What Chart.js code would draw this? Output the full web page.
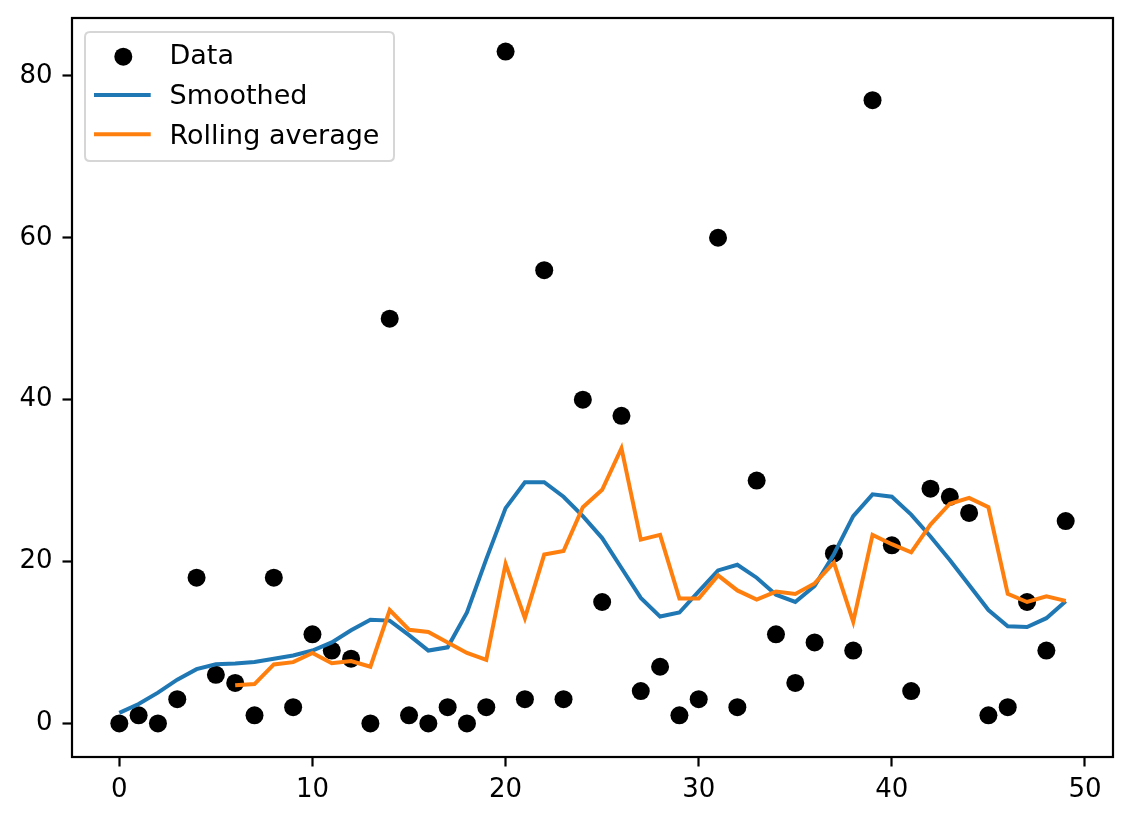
<!DOCTYPE html>
<html>
<head>
<meta charset="utf-8">
<script src="https://cdn.jsdelivr.net/npm/chart.js@4.4.1/dist/chart.umd.min.js"></script>
<style>
  html, body { margin: 0; padding: 0; background: #fff; }
  canvas { display: block; }
</style>
</head>
<body>
<canvas id="c" width="1132" height="822"></canvas>
<script>
// ---- data ----
const xValues = [0,1,2,3,4,5,6,7,8,9,10,11,12,13,14,15,16,17,18,19,20,21,22,23,24,25,26,27,28,29,30,31,32,33,34,35,36,37,38,39,40,41,42,43,44,45,46,47,48,49];
const dataValues = [0,1,0,3,18,6,5,1,18,2,11,9,8,0,50,1,0,2,0,2,83,3,56,3,40,15,38,4,7,1,3,60,2,30,11,5,10,21,9,77,22,4,29,28,26,1,2,15,9,25];
const smoothedValues = [1.3,2.4,3.8,5.4,6.7,7.3,7.4,7.6,8.0,8.4,9.0,10.0,11.5,12.8,12.7,10.9,9.0,9.4,13.7,20.3,26.6,29.8,29.8,28.0,25.6,22.9,19.2,15.5,13.2,13.7,16.3,18.9,19.6,18.0,15.9,15.0,17.0,20.9,25.6,28.3,28.0,25.8,23.1,20.2,17.1,14.0,12.0,11.9,13.0,15.1];
const rollingValues = [null,null,null,null,null,null,4.71,4.86,7.29,7.57,8.71,7.43,7.71,7.00,14.00,11.57,11.29,10.00,8.71,7.86,19.71,13.00,20.86,21.29,26.71,28.86,34.00,22.71,23.29,15.43,15.43,18.29,16.43,15.29,16.29,16.00,17.29,19.86,12.57,23.29,22.14,21.14,24.57,27.14,27.86,26.71,16.00,15.00,15.71,15.14];
const seriesLabels = ['Data', 'Smoothed', 'Rolling average'];
const xTicks = [0,10,20,30,40,50];
const yTicks = [0,20,40,60,80];

const toPoints = (ys) => xValues.map((x, i) => ({ x: x, y: ys[i] })).filter(p => p.y !== null);

const FONT = '"DejaVu Sans", "Liberation Sans", sans-serif';

const framePlugin = {
  id: 'frame',
  afterDatasetsDraw(chart) {
    const { ctx, chartArea: a } = chart;
    ctx.save();
    ctx.strokeStyle = '#000';
    ctx.lineWidth = 2.2;
    ctx.strokeRect(a.left, a.top, a.right - a.left, a.bottom - a.top);
    ctx.restore();
  }
};

const legendPlugin = {
  id: 'mplLegend',
  afterDraw(chart) {
    const ctx = chart.ctx;
    const ds = chart.data.datasets;
    const bx = 85, by = 32, bw = 309, bh = 129, r = 5;
    ctx.save();
    ctx.beginPath();
    ctx.moveTo(bx + r, by);
    ctx.lineTo(bx + bw - r, by);
    ctx.quadraticCurveTo(bx + bw, by, bx + bw, by + r);
    ctx.lineTo(bx + bw, by + bh - r);
    ctx.quadraticCurveTo(bx + bw, by + bh, bx + bw - r, by + bh);
    ctx.lineTo(bx + r, by + bh);
    ctx.quadraticCurveTo(bx, by + bh, bx, by + bh - r);
    ctx.lineTo(bx, by + r);
    ctx.quadraticCurveTo(bx, by, bx + r, by);
    ctx.closePath();
    ctx.fillStyle = 'rgba(255,255,255,0.8)';
    ctx.fill();
    ctx.lineWidth = 2;
    ctx.strokeStyle = 'rgba(204,204,204,0.8)';
    ctx.stroke();

    const handleY = [56.7, 95, 134.3];
    const textY = [63.5, 104.3, 144.1];
    ctx.font = '27px ' + FONT;
    ctx.textBaseline = 'alphabetic';
    ctx.textAlign = 'left';
    ds.forEach((d, i) => {
      if (d.showLine) {
        ctx.beginPath();
        ctx.moveTo(94, handleY[i]);
        ctx.lineTo(150.7, handleY[i]);
        ctx.strokeStyle = d.borderColor;
        ctx.lineWidth = 4;
        ctx.stroke();
      } else {
        ctx.beginPath();
        ctx.arc(123.3, handleY[i], 9, 0, Math.PI * 2);
        ctx.fillStyle = d.backgroundColor;
        ctx.fill();
      }
      ctx.fillStyle = '#000';
      ctx.fillText(d.label, 169.5, textY[i]);
    });
    ctx.restore();
  }
};

const zeroPad = (s) => { s.paddingTop = 0; s.paddingBottom = 0; s.paddingLeft = 0; s.paddingRight = 0; };

new Chart(document.getElementById('c'), {
  type: 'scatter',
  data: {
    datasets: [
      {
        label: seriesLabels[0],
        data: toPoints(dataValues),
        backgroundColor: '#000',
        borderColor: '#000',
        pointRadius: 9,
        pointBorderWidth: 0,
        showLine: false,
        order: 3
      },
      {
        label: seriesLabels[1],
        data: toPoints(smoothedValues),
        borderColor: '#1f77b4',
        backgroundColor: '#1f77b4',
        borderWidth: 4,
        pointRadius: 0,
        showLine: true,
        tension: 0,
        order: 2
      },
      {
        label: seriesLabels[2],
        data: toPoints(rollingValues),
        borderColor: '#ff7f0e',
        backgroundColor: '#ff7f0e',
        borderWidth: 4,
        pointRadius: 0,
        showLine: true,
        tension: 0,
        order: 1
      }
    ]
  },
  options: {
    responsive: false,
    devicePixelRatio: 1,
    animation: false,
    layout: { padding: { top: 18, right: 19, left: 0, bottom: 0 } },
    plugins: { legend: { display: false }, tooltip: { enabled: false } },
    scales: {
      x: {
        type: 'linear',
        min: -2.45,
        max: 51.45,
        afterBuildTicks: (s) => { s.ticks = xTicks.map(v => ({ value: v })); },
        afterFit: (s) => { s.height = 65; zeroPad(s); },
        border: { display: false },
        grid: { drawOnChartArea: false, color: 'rgba(0,0,0,0)', tickColor: '#000', tickLength: 9.5, tickWidth: 2.2 },
        ticks: { autoSkip: false, maxRotation: 0, padding: 8, color: '#000', font: { family: FONT, size: 26 } }
      },
      y: {
        type: 'linear',
        min: -4.15,
        max: 87.15,
        afterBuildTicks: (s) => { s.ticks = yTicks.map(v => ({ value: v })); },
        afterFit: (s) => { s.width = 72; zeroPad(s); },
        border: { display: false },
        grid: { drawOnChartArea: false, color: 'rgba(0,0,0,0)', tickColor: '#000', tickLength: 9.5, tickWidth: 2.2 },
        ticks: { autoSkip: false, padding: 10, color: '#000', font: { family: FONT, size: 26 } }
      }
    }
  },
  plugins: [framePlugin, legendPlugin]
});
</script>
</body>
</html>
